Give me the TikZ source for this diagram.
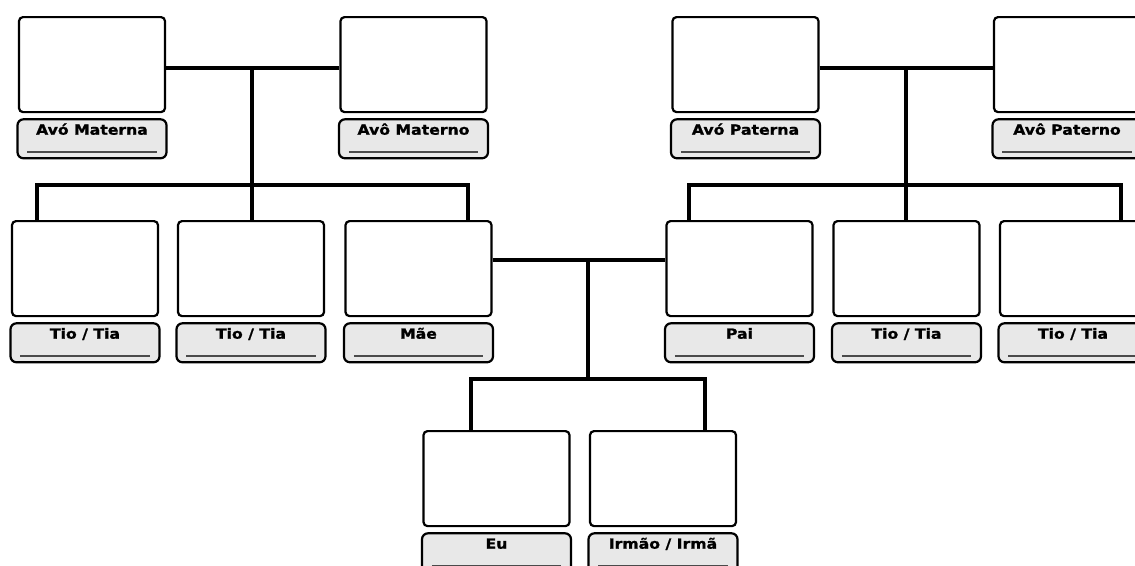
\documentclass[tikz,border=0pt]{standalone}
\usepackage{fontspec}
\newfontfamily\lblfont[FakeStretch=1.12,FakeBold=1.2]{DejaVu Sans Bold}
\definecolor{lblfill}{HTML}{E8E8E8}
\definecolor{ulinec}{HTML}{4A4A4A}
\tikzset{
  photo/.style={draw, line width=2.2, rounded corners=4, fill=white, minimum width=146, minimum height=95, inner sep=0},
  lblbox/.style={draw, line width=2.2, rounded corners=6, fill=lblfill, minimum width=149, minimum height=39, inner sep=0},
  lbltext/.style={anchor=base, font=\lblfont\fontsize{14}{15}\selectfont, inner sep=0, yshift=-16.5},
  uline/.style={ulinec, line width=1.6},
  conn/.style={line width=3.6}
}
\newcommand{\person}[4]{% name, cx, photo top, text
  \node[photo, anchor=north] (#1) at (#2,#3) {};
  \node[lblbox, anchor=north] (#1L) at ([yshift=-5]#1.south) {};
  \node[lbltext] (#1T) at (#1L.north) {#4};
  \draw[uline] ([xshift=11,yshift=-34]#1L.north west) -- ([xshift=-11,yshift=-34]#1L.north east);
}
\begin{document}
\begin{tikzpicture}[x=1pt,y=-1pt]
\useasboundingbox (0,0) rectangle (1135,565);
\clip (0,0) rectangle (1135,565);
% grandparents
\person{am}{92}{16}{Avó Materna}
\person{ao}{413.5}{16}{Avô Materno}
\person{ap}{745.5}{16}{Avó Paterna}
\person{po}{1067}{16}{Avô Paterno}
% parents generation
\person{t1}{85}{220}{Tio / Tia}
\person{t2}{251}{220}{Tio / Tia}
\person{mae}{418.5}{220}{Mãe}
\person{pai}{739.5}{220}{Pai}
\person{t3}{906.5}{220}{Tio / Tia}
\person{t4}{1073}{220}{Tio / Tia}
% children
\person{eu}{496.5}{430}{Eu}
\person{ir}{663}{430}{Irmão / Irmã}
% maternal connectors
\coordinate (mj) at (252,68);
\coordinate (mb) at (252,185);
\draw[conn] (am.east |- mj) -- (ao.west |- mj);
\draw[conn] (mj) -- (mb);
\draw[conn] (t1.north -| 37,0) -- (37,185) -- (468,185) -- (mae.north -| 468,0);
\draw[conn] (mb) -- (t2.north -| mb);
% paternal connectors
\coordinate (pj) at (906,68);
\coordinate (pb) at (906,185);
\draw[conn] (ap.east |- pj) -- (po.west |- pj);
\draw[conn] (pj) -- (pb);
\draw[conn] (pai.north -| 689,0) -- (689,185) -- (1121,185) -- (t4.north -| 1121,0);
\draw[conn] (pb) -- (t3.north -| pb);
% parents to children
\coordinate (cj) at (588,260);
\coordinate (cb) at (588,379);
\draw[conn] (mae.east |- cj) -- (pai.west |- cj);
\draw[conn] (cj) -- (cb);
\draw[conn] (eu.north -| 471,0) -- (471,379) -- (705,379) -- (ir.north -| 705,0);
\end{tikzpicture}
\end{document}
